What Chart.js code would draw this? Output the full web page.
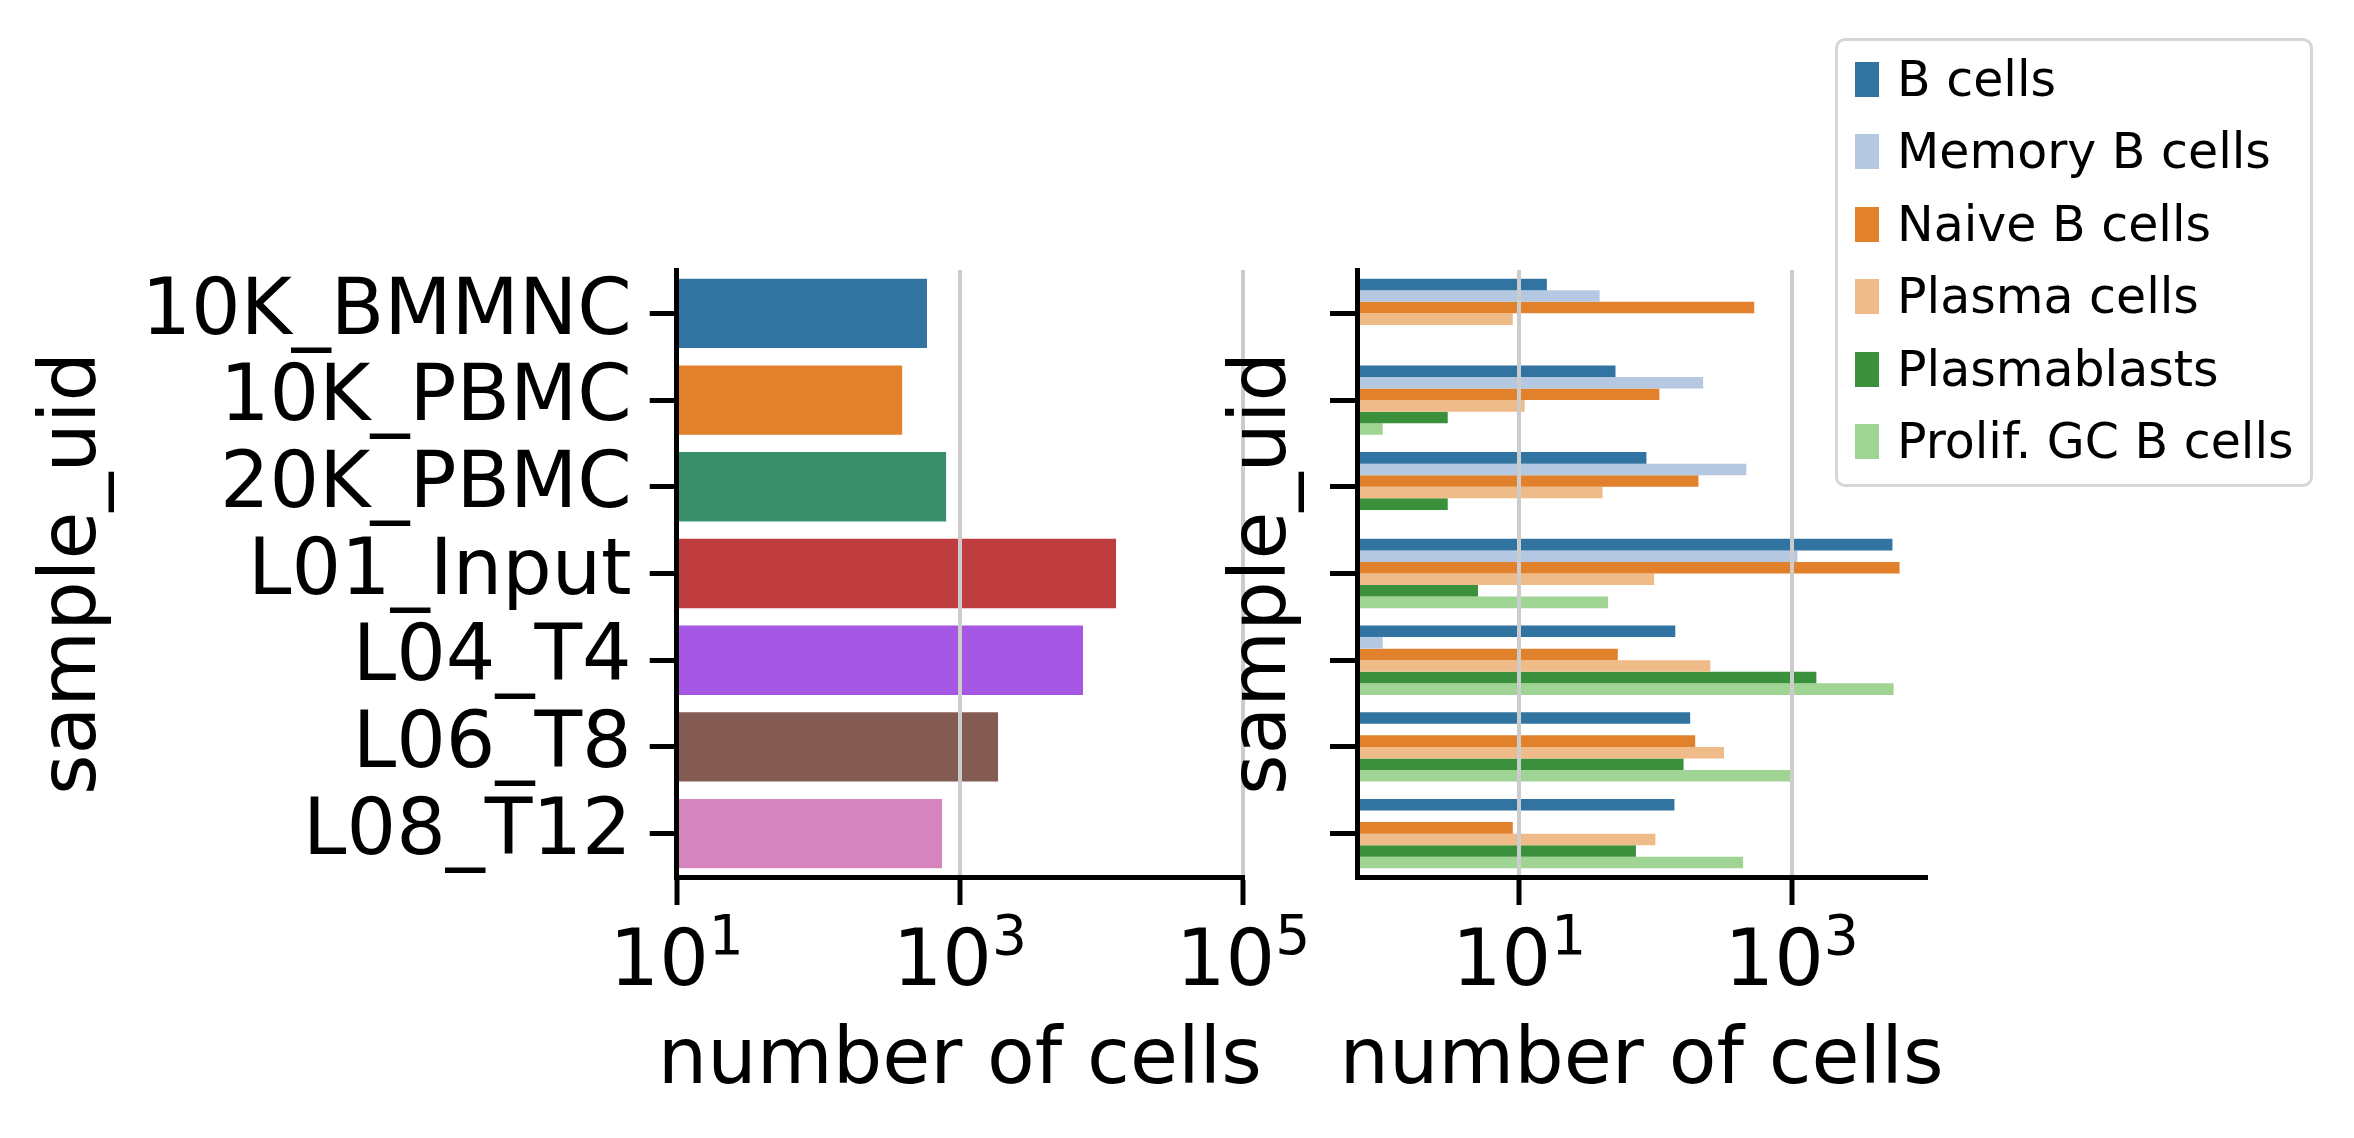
<!DOCTYPE html>
<html>
<head>
<meta charset="utf-8">
<title>Cells per sample</title>
<script src="https://cdn.jsdelivr.net/npm/chart.js@4.4.1/dist/chart.umd.min.js"></script>
<style>
  body { margin: 0; background: #fff; }
  .figure { position: relative; width: 2354px; height: 1138px; font-family: 'DejaVu Sans', sans-serif; }
  .figure canvas { position: absolute; left: 0; top: 0; }
  .legend {
    position: absolute; left: 1835px; top: 38px; width: 478px; height: 449px;
    box-sizing: border-box; border: 3px solid #d6d6d6; border-radius: 10px;
    padding-top: 2px; background: rgba(255, 255, 255, 0.8);
  }
  .legend__item { display: flex; align-items: center; height: 72.5px; }
  .legend__swatch { width: 24px; height: 35px; margin-left: 17px; margin-right: 18px; flex: none; }
  .legend__label { font-size: 49px; line-height: 1; color: #000; white-space: nowrap; }
</style>
</head>
<body>
<div class="figure">
  <canvas id="chart-total" width="2354" height="1138"></canvas>
  <canvas id="chart-celltype" width="2354" height="1138"></canvas>
  <div class="legend" id="legend"></div>
</div>
<script>
const samples = ['10K_BMMNC', '10K_PBMC', '20K_PBMC', 'L01_Input', 'L04_T4', 'L06_T8', 'L08_T12'];
const sampleTotals = [586, 391, 800, 12680, 7410, 1862, 748];
const sampleColors = ['#3274A1', '#E1812C', '#3A8F6B', '#BF3D3E', '#A657E3', '#835B53', '#D584BD'];

const cellTypes = ['B cells', 'Memory B cells', 'Naive B cells', 'Plasma cells', 'Plasmablasts', 'Prolif. GC B cells'];
const cellColors = ['#3274A1', '#B5C8E1', '#E1812C', '#EEBB89', '#3B913B', '#9FD495'];
const bCells = [16, 51, 86, 5480, 140, 180, 138];
const memoryBCells = [39, 224, 465, 1100, 1, null, null];
const naiveBCells = [531, 107, 207, 6180, 53, 196, 9];
const plasmaCells = [9, 11, 41, 98, 253, 319, 100];
const plasmablasts = [null, 3, 3, 5, 1517, 161, 72];
const prolifGCBCells = [null, 1, null, 45, 5590, 975, 440];

const totalTicks = [10, 1000, 100000];
const celltypeTicks = [10, 1000];

const LABEL_SIZE = 78;
const SUP_SIZE = 55;
const FONT = "'DejaVu Sans'";

Chart.defaults.font.family = "'DejaVu Sans', sans-serif";
Chart.defaults.color = '#000';

// 10^n tick labels and the x axis title, drawn like matplotlib does
// (chart.js squeezes a title wider than the axis, so it is drawn here)
const axisText = {
    id: 'axisText',
    afterDraw(chart, args, opts) {
        const { ctx } = chart;
        const axis = chart.scales.x;
        ctx.save();
        ctx.fillStyle = '#000';
        ctx.textBaseline = 'alphabetic';
        ctx.textAlign = 'left';
        opts.values.forEach(value => {
            const power = String(Math.round(Math.log10(value)));
            ctx.font = `${LABEL_SIZE}px ${FONT}`;
            const baseWidth = ctx.measureText('10').width;
            ctx.font = `${SUP_SIZE}px ${FONT}`;
            const supWidth = ctx.measureText(power).width;
            const left = axis.getPixelForValue(value) - (baseWidth + supWidth) / 2;
            ctx.font = `${LABEL_SIZE}px ${FONT}`;
            ctx.fillText('10', left, axis.top + 108);
            ctx.font = `${SUP_SIZE}px ${FONT}`;
            ctx.fillText(power, left + baseWidth, axis.top + 77);
        });
        ctx.textAlign = 'center';
        ctx.font = `${LABEL_SIZE}px ${FONT}`;
        ctx.fillText(opts.title, (axis.left + axis.right) / 2, axis.top + 206);
        ctx.restore();
    }
};

function logAxis(min, max, tickValues) {
    return {
        type: 'logarithmic',
        min: min,
        max: max,
        bounds: 'data',
        afterBuildTicks: scale => { scale.ticks = tickValues.map(v => ({ value: v })); },
        afterFit: scale => { scale.height = 261; },
        ticks: { display: false, autoSkip: false },
        grid: { color: '#cccccc', lineWidth: 4, z: 1, tickLength: 28, tickColor: '#000', tickWidth: 5 },
        border: { color: '#000', width: 5, z: 2 },
        title: { display: false }
    };
}

function sampleAxis(showLabels, width, titlePad) {
    return {
        type: 'category',
        afterFit: scale => { scale.width = width; },
        ticks: { display: showLabels, autoSkip: false, padding: 18, color: '#000', font: { size: LABEL_SIZE } },
        grid: { offset: false, drawOnChartArea: false, tickLength: 27, tickColor: '#000', tickWidth: 5, z: 2 },
        border: { color: '#000', width: 5, z: 2 },
        title: {
            display: true,
            text: 'sample_uid',
            color: '#000',
            font: { size: LABEL_SIZE, lineHeight: 1 },
            padding: { top: titlePad, bottom: 0 }
        }
    };
}

const chartTotal = new Chart(document.getElementById('chart-total'), {
    type: 'bar',
    data: {
        labels: samples,
        datasets: [{
            label: 'number of cells',
            data: sampleTotals,
            backgroundColor: sampleColors,
            borderWidth: 0,
            categoryPercentage: 0.8,
            barPercentage: 1
        }]
    },
    options: {
        indexAxis: 'y',
        responsive: false,
        animation: false,
        devicePixelRatio: 1,
        layout: { padding: { left: 0, top: 270, right: 1111, bottom: 0 } },
        plugins: {
            legend: { display: false },
            tooltip: { enabled: false },
            axisText: { values: totalTicks, title: 'number of cells' }
        },
        scales: {
            x: logAxis(10, 100000, totalTicks),
            y: sampleAxis(true, 676.7, 36)
        }
    },
    plugins: [axisText]
});

const series = [bCells, memoryBCells, naiveBCells, plasmaCells, plasmablasts, prolifGCBCells];

const chartCelltype = new Chart(document.getElementById('chart-celltype'), {
    type: 'bar',
    data: {
        labels: samples,
        datasets: series.map((values, i) => ({
            label: cellTypes[i],
            data: values,
            backgroundColor: cellColors[i],
            borderWidth: 0,
            categoryPercentage: 0.8,
            barPercentage: 1
        }))
    },
    options: {
        indexAxis: 'y',
        responsive: false,
        animation: false,
        devicePixelRatio: 1,
        layout: { padding: { left: 1200, top: 270, right: 428, bottom: 0 } },
        plugins: {
            legend: { display: false },
            tooltip: { enabled: false },
            axisText: { values: celltypeTicks, title: 'number of cells' }
        },
        scales: {
            x: logAxis(0.648, 9660, celltypeTicks),
            y: sampleAxis(false, 157, 26)
        }
    },
    plugins: [axisText]
});

const legend = document.getElementById('legend');
cellTypes.forEach((name, i) => {
    const item = document.createElement('div');
    item.className = 'legend__item';
    const swatch = document.createElement('span');
    swatch.className = 'legend__swatch';
    swatch.style.background = cellColors[i];
    const label = document.createElement('span');
    label.className = 'legend__label';
    label.textContent = name;
    item.appendChild(swatch);
    item.appendChild(label);
    legend.appendChild(item);
});
</script>
</body>
</html>
